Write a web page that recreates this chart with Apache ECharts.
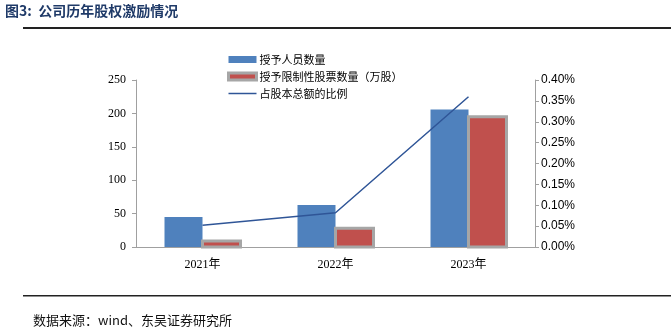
<!DOCTYPE html>
<html>
<head>
<meta charset="utf-8">
<script src="https://cdn.jsdelivr.net/npm/echarts@6/dist/echarts.min.js"></script>
<style>
  html, body { margin: 0; padding: 0; background: #fff; }
  #chart { width: 671px; height: 329px; }
</style>
</head>
<body>
<div id="chart"></div>
<script>
// Equity incentive grants by year
const categories = ['2021年', '2022年', '2023年'];
const grantedPeople = [45, 63, 206];          // 授予人员数量
const grantedShares = [9, 28, 195];           // 授予限制性股票数量（万股）
const shareOfTotal = [0.052, 0.082, 0.36];    // 占股本总额的比例 (%)
const leftTicks = { min: 0, max: 250, interval: 50 };
const rightTicks = { min: 0, max: 0.4, interval: 0.05 };

const serif = 'Liberation Serif, "Noto Sans CJK SC", serif';
const cjk = '"Noto Sans CJK SC", sans-serif';
const axisGray = '#A0A0A0';
const BAR_W = 38;

// Bars sit side by side around the category centre; the stroke is centred on
// the bar outline so the frame spreads both inward and outward.
function barRenderer(side, fill, stroke, lineWidth) {
  return function (params, api) {
    const cat = api.value(0);
    const top = api.coord([cat, api.value(1)]);
    const base = api.coord([cat, 0]);
    const x = side < 0 ? top[0] - BAR_W : top[0];
    return {
      type: 'rect',
      shape: { x: x, y: top[1], width: BAR_W, height: base[1] - top[1] },
      style: { fill: fill, stroke: stroke || null, lineWidth: lineWidth || 0 }
    };
  };
}

const chart = echarts.init(document.getElementById('chart'));
chart.setOption({
  animation: false,
  backgroundColor: '#fff',
  grid: { left: 136, right: 136, top: 80, bottom: 82 },
  graphic: [
    { type: 'text', left: 5, top: 4,
      style: { text: '图3:  公司历年股权激励情况', fill: '#1F3A68',
               font: 'bold 14px "Noto Sans CJK SC", sans-serif' } },
    { type: 'rect', shape: { x: 23, y: 27, width: 648, height: 2 },
      style: { fill: '#222' } },
    { type: 'rect', shape: { x: 23, y: 295, width: 648, height: 1.5 },
      style: { fill: '#222' } },
    { type: 'text', left: 33, top: 314,
      style: { text: '数据来源：wind、东吴证券研究所', fill: '#111',
               font: '13px "Noto Sans CJK SC", serif' } }
  ],
  legend: {
    orient: 'vertical', left: 222, top: 49,
    itemWidth: 28, itemHeight: 7, itemGap: 6,
    textStyle: { fontFamily: cjk, fontSize: 11, color: '#000', padding: [0, 0, 0, -2] },
    data: [
      { name: '授予人员数量', icon: 'rect', itemStyle: { color: '#4F81BD' } },
      { name: '授予限制性股票数量（万股）', icon: 'rect',
        itemStyle: { color: '#C0504D', borderColor: '#A6A6A6', borderWidth: 3 } },
      { name: '占股本总额的比例', icon: 'path://M0,0 H28 V1.5 H0 Z',
        itemStyle: { color: '#2F5597' } }
    ]
  },
  xAxis: {
    type: 'category', data: categories,
    axisLine: { lineStyle: { color: axisGray } },
    axisTick: { inside: true, length: 5, lineStyle: { color: axisGray } },
    axisLabel: { fontFamily: serif, fontSize: 12, color: '#000', margin: 12 }
  },
  yAxis: [
    { type: 'value', ...leftTicks, splitLine: { show: false },
      axisLine: { show: true, lineStyle: { color: axisGray } },
      axisTick: { show: true, length: 4, lineStyle: { color: axisGray } },
      axisLabel: { fontFamily: serif, fontSize: 12, color: '#000', margin: 10 } },
    { type: 'value', ...rightTicks, splitLine: { show: false }, position: 'right',
      axisLine: { show: true, lineStyle: { color: axisGray } },
      axisTick: { show: true, length: 4, lineStyle: { color: axisGray } },
      axisLabel: { fontFamily: 'Liberation Sans, Arial, sans-serif', fontSize: 12,
                   color: '#000', margin: 6,
                   formatter: v => v.toFixed(2) + '%' } }
  ],
  series: [
    { name: '授予人员数量', type: 'custom',
      data: grantedPeople.map((v, i) => [i, v]), encode: { x: 0, y: 1 },
      itemStyle: { color: '#4F81BD' },
      renderItem: barRenderer(-1, '#4F81BD') },
    { name: '授予限制性股票数量（万股）', type: 'custom',
      data: grantedShares.map((v, i) => [i, v]), encode: { x: 0, y: 1 },
      itemStyle: { color: '#C0504D' },
      renderItem: barRenderer(1, '#C0504D', '#A6A6A6', 3) },
    { name: '占股本总额的比例', type: 'line', yAxisIndex: 1, data: shareOfTotal,
      symbol: 'none', z: 5,
      lineStyle: { color: '#2F5597', width: 1.5 },
      itemStyle: { color: '#2F5597' } }
  ]
});
</script>
</body>
</html>
